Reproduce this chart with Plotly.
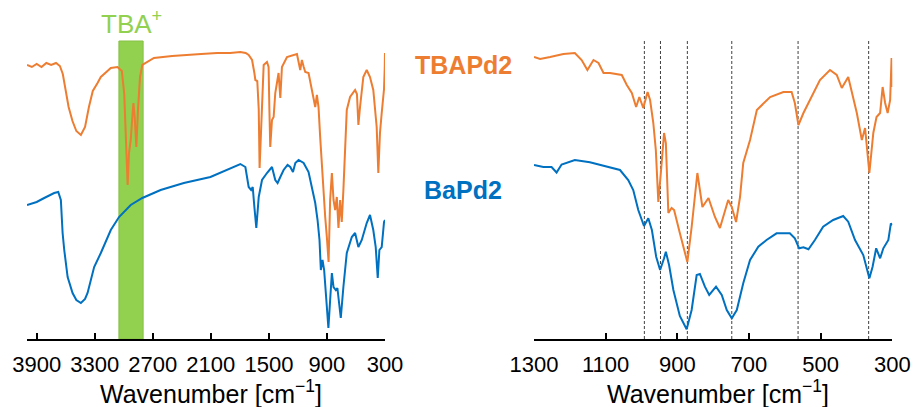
import plotly.graph_objects as go

# ---------------- data (arbitrary transmittance units, offset) ----------------
wn_tba_full = [4000, 3950, 3900, 3850, 3800, 3750, 3700, 3660, 3630, 3600, 3570, 3530, 3490, 3443,
               3400, 3360, 3320, 3271, 3237, 3180, 3134, 3065, 3020, 2995, 2975, 2960, 2946, 2928,
               2910, 2900, 2887, 2870, 2853, 2832, 2808, 2756, 2688, 2500, 2380, 2200, 2035, 1900,
               1795, 1740, 1709, 1690, 1674, 1650, 1640, 1620, 1605, 1596, 1585, 1571, 1554, 1520,
               1503, 1495, 1486, 1468, 1451, 1434, 1416, 1400, 1382, 1365, 1313, 1245, 1210, 1176,
               1159, 1140, 1124, 1090, 1056, 1021, 1004, 987, 970, 952, 935, 918, 901, 883, 867,
               849, 832, 815, 798, 781, 764, 747, 730, 712, 695, 661, 609, 590, 575, 558, 524, 489,
               455, 421, 400, 386, 369, 352, 334, 317, 310, 303, 300]
t_tba_full = [274, 272, 275, 272, 276, 274, 276, 273, 265, 250, 232, 218, 208, 204,
              212, 232, 248, 256, 262, 267, 271, 272, 268, 245, 195, 154, 186, 199,
              224, 236, 222, 192, 229, 262, 274, 277, 281, 283, 284, 285, 286, 286,
              287, 286, 284, 281, 279, 266, 259, 258, 230, 171, 200, 249, 274, 277,
              272, 230, 192, 219, 222, 246, 259, 266, 241, 272, 282, 284, 285, 269,
              279, 272, 267, 266, 249, 232, 244, 232, 202, 172, 149, 122, 102, 77, 139,
              166, 139, 129, 142, 111, 139, 117, 149, 200, 229, 242, 249, 245, 214, 232, 262, 269,
              262, 249, 225, 212, 166, 206, 226, 239, 250, 270, 286]

wn_ba_full = [4000, 3900, 3822, 3719, 3677, 3650, 3632, 3615, 3580, 3529, 3490, 3443, 3400, 3374,
              3306, 3237, 3134, 3049, 2928, 2808, 2619, 2379, 2104, 1897, 1795, 1743, 1709, 1684,
              1667, 1650, 1630, 1605, 1571, 1520, 1468, 1434, 1410, 1382, 1348, 1307, 1279, 1251,
              1227, 1193, 1141, 1090, 1056, 1021, 997, 977, 963, 946, 929, 908, 885, 867, 849, 832,
              808, 792, 774, 757, 730, 695, 643, 609, 575, 540, 489, 455, 421, 396, 375, 358, 334,
              310, 300]
t_ba_full = [134, 137, 141, 146, 147, 139, 106, 89, 62, 46, 39, 36, 40, 46,
             72, 86, 109, 122, 134, 141, 149, 156, 162, 171, 175, 172, 152, 149,
             152, 132, 111, 142, 159, 166, 172, 159, 156, 162, 169, 174, 172, 167,
             176, 179, 176, 167, 152, 136, 119, 99, 69, 79, 69, 39, 11, 39, 66, 52,
             49, 51, 36, 21, 52, 86, 102, 106, 92, 99, 116, 124, 109, 92, 61, 89, 92,
             117, 119]

wn_tba_low = [1300, 1283, 1255, 1218, 1186, 1167, 1151, 1134, 1120, 1106, 1088, 1055, 1041, 1027,
              1015, 1006, 995, 983, 976, 967, 960, 953, 946, 937, 932, 925, 916, 909, 893, 872,
              860, 844, 830, 813, 795, 781, 758, 748, 736, 725, 716, 697, 678, 669, 641, 604, 581,
              572, 562, 548, 530, 502, 474, 455, 441, 423, 399, 385, 376, 364, 353, 344, 334, 327,
              320, 313, 306, 302, 300]
t_tba_low = [282, 280, 282, 285, 286, 279, 269, 279, 276, 266, 266, 264, 254, 246,
             232, 242, 231, 247, 239, 216, 189, 137, 166, 206, 196, 126, 131, 129, 106, 77,
             112, 166, 132, 141, 122, 111, 139, 132, 117, 142, 176, 199, 229, 232, 242, 247, 247,
             236, 214, 226, 239, 259, 269, 264, 251, 262, 226, 199, 211, 166, 206, 222, 226, 252,
             236, 226, 239, 281, 252]

wn_ba_low = [1300, 1274, 1251, 1237, 1223, 1186, 1144, 1097, 1060, 1037, 1023, 1009, 993, 981,
             971, 959, 948, 937, 932, 923, 911, 893, 874, 860, 846, 837, 823, 811, 792, 776, 762,
             748, 734, 716, 697, 674, 651, 623, 586, 572, 560, 548, 534, 516, 493, 465, 437, 423,
             404, 381, 364, 355, 345, 334, 325, 311, 304, 300]
t_ba_low = [174, 172, 172, 166.5, 174.5, 179, 176.7, 172.3, 169, 159, 149, 129, 113, 120.7,
            109, 82.3, 69, 80.7, 87.3, 74, 49, 23, 9.7, 29, 64, 65, 52.3, 44, 52.3, 44, 29,
            20.7, 29, 55.7, 79, 92.3, 99, 105.7, 105.7, 100.7, 90.7, 91.7, 89.7, 99, 112.3, 119, 123, 117.3,
            99, 84, 60.7, 72.3, 90.7, 80.7, 90.7, 99, 115.7, 114]

tba_band = [3050, 2800]                      # TBA+ C-H stretching region
marker_lines = [992, 947, 872, 748, 563, 366]  # dashed guide lines
ticks_full = [3900, 3300, 2700, 2100, 1500, 900, 300]
ticks_low = [1300, 1100, 900, 700, 500, 300]
x_title = "Wavenumber [cm<sup>−1</sup>]"

# ---------------- styles ----------------
ORANGE = "#ED7D31"
BLUE = "#0070C0"
GREEN = "#92D050"
FONT = "Arial, Liberation Sans, sans-serif"
W, H = 916, 407

fig = go.Figure()
fig.add_trace(go.Scatter(x=wn_tba_full, y=t_tba_full, mode="lines",
                         line=dict(color=ORANGE, width=2), xaxis="x", yaxis="y", name="TBAPd2"))
fig.add_trace(go.Scatter(x=wn_ba_full, y=t_ba_full, mode="lines",
                         line=dict(color=BLUE, width=2), xaxis="x", yaxis="y", name="BaPd2"))
fig.add_trace(go.Scatter(x=wn_tba_low, y=t_tba_low, mode="lines",
                         line=dict(color=ORANGE, width=2), xaxis="x2", yaxis="y2", name="TBAPd2"))
fig.add_trace(go.Scatter(x=wn_ba_low, y=t_ba_low, mode="lines",
                         line=dict(color=BLUE, width=2), xaxis="x2", yaxis="y2", name="BaPd2"))

shapes = [dict(type="rect", xref="x", yref="y domain", x0=tba_band[0], x1=tba_band[1],
               y0=0, y1=1, fillcolor=GREEN, line=dict(color="#86C044", width=1), layer="below")]
for w in marker_lines:
    shapes.append(dict(type="line", xref="x2", yref="y2 domain", x0=w, x1=w, y0=0, y1=1,
                       line=dict(color="#404040", width=1, dash="3px,2px"), layer="below"))

ydom = [(H - 339) / H, (H - 41) / H]
xaxis_common = dict(showline=True, linecolor="black", linewidth=1.5, ticks="inside",
                    ticklen=6, tickwidth=1.5, tickcolor="black", showgrid=False, zeroline=False,
                    automargin=False, ticklabelstandoff=5,
                    tickfont=dict(family=FONT, size=22, color="black"))

dom1 = [27 / W, 385 / W]
dom2 = [534 / W, 892.3 / W]


def label(text, x, y, size, color, xref="paper"):
    return dict(text=text, x=x, xref=xref, y=y, yref="paper", showarrow=False,
                xanchor="center", yanchor="middle",
                font=dict(family=FONT, size=size, color=color))


fig.update_layout(
    width=W, height=H, margin=dict(l=0, r=0, t=0, b=0, pad=0, autoexpand=False),
    paper_bgcolor="white", plot_bgcolor="white", showlegend=False,
    xaxis=dict(domain=dom1, range=[4000, 300], tickvals=ticks_full, anchor="y", **xaxis_common),
    xaxis2=dict(domain=dom2, range=[1300, 300], tickvals=ticks_low, anchor="y2", **xaxis_common),
    yaxis=dict(domain=ydom, range=[0, 298], visible=False),
    yaxis2=dict(domain=ydom, range=[0, 298], visible=False, anchor="x2"),
    shapes=shapes,
    annotations=[
        label("TBA<sup>+</sup>", 2925, (H - 23) / H, 26, GREEN, xref="x"),
        label("<b>TBAPd2</b>", 463 / W, (H - 65.5) / H, 25, ORANGE),
        label("<b>BaPd2</b>", 463 / W, (H - 190) / H, 25, BLUE),
        label(x_title, 211 / W, (H - 392) / H, 25, "black"),
        label(x_title, 718 / W, (H - 392) / H, 25, "black"),
    ],
)

fig.write_html("out.html", config={"displayModeBar": False},
               post_script="document.body.style.margin='0px';")
